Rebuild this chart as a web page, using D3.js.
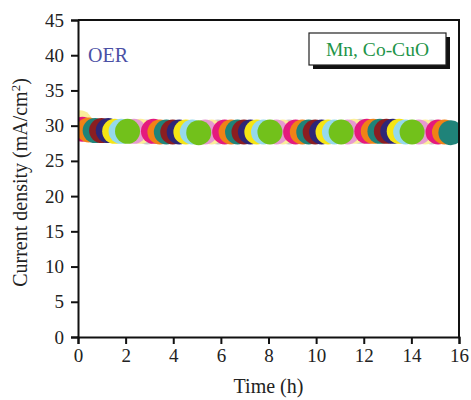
<!DOCTYPE html>
<html>
<head>
<meta charset="utf-8">
<script src="https://cdn.jsdelivr.net/npm/d3@7"></script>
<style>
  html, body { margin: 0; padding: 0; background: #fff; }
  svg { display: block; }
  text { font-family: "Liberation Serif", "DejaVu Serif", serif; }
</style>
</head>
<body>
<svg id="chart" width="471" height="400"></svg>
<script>
// Chronoamperometry of Mn, Co-CuO (OER): current density vs time
const timeH = [0.08, 0.12, 0.18, 0.45, 0.72, 0.99, 1.27, 1.54, 1.81, 2.08, 2.35, 2.62, 2.90,
  3.17, 3.44, 3.71, 3.98, 4.25, 4.53, 4.80, 5.07, 5.34, 5.61, 5.88, 6.16, 6.43, 6.70,
  6.97, 7.24, 7.51, 7.79, 8.06, 8.33, 8.60, 8.87, 9.14, 9.42, 9.69, 9.96, 10.23, 10.50,
  10.77, 11.05, 11.32, 11.59, 11.86, 12.13, 12.40, 12.68, 12.95, 13.22, 13.49, 13.76,
  14.03, 14.31, 14.58, 14.85, 15.12, 15.39, 15.66];
const currentDensity = [30.4, 29.8, 29.5, 29.4, 29.3, 29.3, 29.3, 29.2, 29.2, 29.2, 29.2, 29.2, 29.1,
  29.2, 29.1, 29.1, 29.1, 29.1, 29.1, 29.1, 29.0, 29.1, 29.1, 29.1, 29.1, 29.1, 29.1,
  29.1, 29.1, 29.1, 29.1, 29.1, 29.1, 29.1, 29.1, 29.1, 29.1, 29.1, 29.1, 29.1, 29.1,
  29.1, 29.1, 29.1, 29.2, 29.2, 29.2, 29.2, 29.2, 29.2, 29.2, 29.2, 29.1, 29.1,
  29.1, 29.1, 29.1, 29.1, 29.1, 29.0];
const xTicks = [0, 2, 4, 6, 8, 10, 12, 14, 16];
const yTicks = [0, 5, 10, 15, 20, 25, 30, 35, 40, 45];
const palette = ["#e5197d", "#f08216", "#1f8379", "#8b1e21", "#2e2677", "#f6e514",
  "#95d9ec", "#72c11b", "#e69ad0", "#fbee9a", "#c9c9c9"];
const labelText = "Mn, Co-CuO";
const panelText = "OER";

const svg = d3.select("#chart");
const m = { left: 78, right: 459, top: 20, bottom: 337 };

const x = d3.scaleLinear().domain([0, 16]).range([m.left, m.right]);
const y = d3.scaleLinear().domain([0, 45]).range([m.bottom, m.top]);

svg.append("defs").append("clipPath").attr("id", "plotClip")
  .append("rect")
  .attr("x", m.left).attr("y", m.top)
  .attr("width", m.right - m.left).attr("height", m.bottom - m.top);

// points: colours cycle; within each cycle the green marker sits on top
const pts = timeH.map((t, i) => {
  const k = (i + 9) % palette.length;   // first marker is the pale yellow one
  const cycle = Math.floor((i + 9) / palette.length);
  const layer = k <= 7 ? k : 7 - (k - 7) * 0.5;
  return { t, v: currentDensity[i], color: palette[k], key: cycle * 20 + layer };
}).sort((a, b) => a.key - b.key);

svg.append("g").attr("clip-path", "url(#plotClip)")
  .selectAll("circle").data(pts).join("circle")
  .attr("cx", d => x(d.t))
  .attr("cy", d => y(d.v))
  .attr("r", 12.5)
  .attr("fill", d => d.color);

// axes
const xAxis = svg.append("g").attr("transform", `translate(0,${m.bottom})`)
  .call(d3.axisBottom(x).tickValues(xTicks).tickSize(7).tickPadding(5).tickFormat(d3.format("d")));
const yAxis = svg.append("g").attr("transform", `translate(${m.left},0)`)
  .call(d3.axisLeft(y).tickValues(yTicks).tickSize(7).tickPadding(7).tickFormat(d3.format("d")));
[xAxis, yAxis].forEach(a => {
  a.select(".domain").attr("stroke", "#111").attr("stroke-width", 2);
  a.selectAll(".tick line").attr("stroke", "#111").attr("stroke-width", 2);
  a.selectAll(".tick text").attr("fill", "#222").attr("font-size", 19)
    .attr("font-family", "Liberation Serif, DejaVu Serif, serif");
});

// top and right frame
svg.append("path")
  .attr("d", `M${m.left},${m.top}H${m.right}V${m.bottom}`)
  .attr("fill", "none").attr("stroke", "#111").attr("stroke-width", 2);

// axis titles
svg.append("text")
  .attr("x", (m.left + m.right) / 2).attr("y", 393)
  .attr("text-anchor", "middle").attr("font-size", 20).attr("fill", "#222")
  .text("Time (h)");
const yt = svg.append("text")
  .attr("transform", `translate(27,${(m.top + m.bottom) / 2 + 4}) rotate(-90)`)
  .attr("text-anchor", "middle").attr("font-size", 20).attr("fill", "#222");
yt.append("tspan").text("Current density (mA/cm");
yt.append("tspan").attr("dy", -7).attr("font-size", 13).text("2");
yt.append("tspan").attr("dy", 7).text(")");

// panel tag
svg.append("text")
  .attr("x", 88).attr("y", 62)
  .attr("font-size", 20).attr("fill", "#4b50a5")
  .text(panelText);

// legend box with drop shadow
const bx = 309, by = 33, bw = 137, bh = 32;
svg.append("rect").attr("x", bx + 4).attr("y", by + 4).attr("width", bw).attr("height", bh)
  .attr("fill", "#111");
svg.append("rect").attr("x", bx).attr("y", by).attr("width", bw).attr("height", bh)
  .attr("fill", "#fff").attr("stroke", "#222").attr("stroke-width", 1.2);
svg.append("text")
  .attr("x", bx + bw / 2).attr("y", by + bh / 2 + 7)
  .attr("text-anchor", "middle").attr("font-size", 19.5).attr("fill", "#1e9448")
  .text(labelText);
</script>
</body>
</html>
